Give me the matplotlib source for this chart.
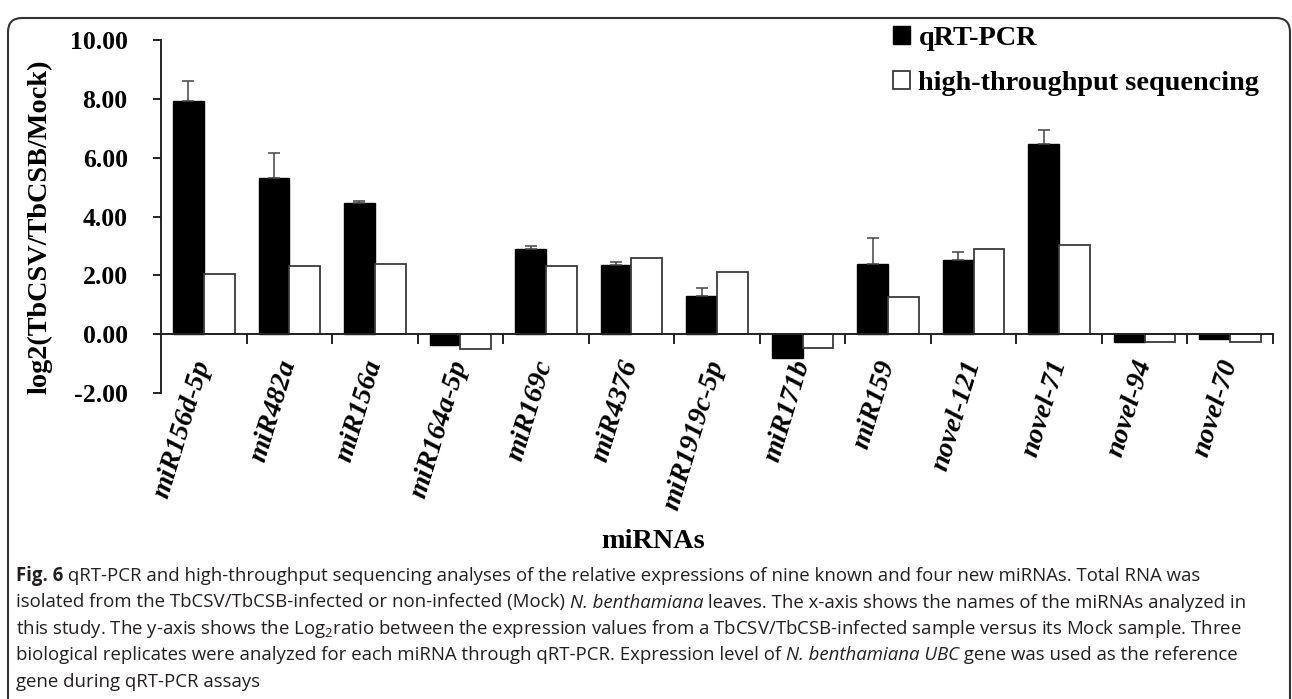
import numpy as np
import matplotlib
matplotlib.use("Agg")
import matplotlib.pyplot as plt
import matplotlib.transforms as mtransforms
from matplotlib.patches import FancyBboxPatch

# values
mirnas = ["miR156d-5p", "miR482a", "miR156a", "miR164a-5p", "miR169c", "miR4376",
          "miR1919c-5p", "miR171b", "miR159", "novel-121", "novel-71", "novel-94", "novel-70"]
qrt_pcr = [7.94, 5.30, 4.45, -0.38, 2.90, 2.36, 1.30, -0.82, 2.39, 2.51, 6.48, -0.25, -0.15]
qrt_err = [0.66, 0.87, 0.07, 0.0, 0.10, 0.09, 0.28, 0.0, 0.87, 0.30, 0.47, 0.0, 0.0]
hts = [2.04, 2.32, 2.38, -0.52, 2.32, 2.60, 2.11, -0.48, 1.25, 2.88, 3.04, -0.27, -0.28]
yticks = [-2, 0, 2, 4, 6, 8, 10]

# caption lines as (text, style) pieces: n normal, b bold, i italic
caption = [
    [("Fig. 6", "b"), (" qRT-PCR and high-throughput sequencing analyses of the relative expressions of nine known and four new miRNAs. Total RNA was", "n")],
    [("isolated from the TbCSV/TbCSB-infected or non-infected (Mock) ", "n"), ("N. benthamiana", "i"),
     (" leaves. The x-axis shows the names of the miRNAs analyzed in", "n")],
    [("this study. The y-axis shows the Log$_2$ratio between the expression values from a TbCSV/TbCSB-infected sample versus its Mock sample. Three", "n")],
    [("biological replicates were analyzed for each miRNA through qRT-PCR. Expression level of ", "n"),
     ("N. benthamiana UBC", "i"), (" gene was used as the reference", "n")],
    [("gene during qRT-PCR assays", "n")],
]

plt.rcParams["mathtext.fontset"] = "custom"
plt.rcParams["mathtext.rm"] = "Open Sans"
plt.rcParams["mathtext.it"] = "Open Sans:italic"
plt.rcParams["mathtext.bf"] = "Open Sans:bold"

serif = "Liberation Serif"
fs = 20.3
W, H = 1292, 699
fig = plt.figure(figsize=(W / 100, H / 100), dpi=100)
ax = fig.add_axes([161 / W, 1 - 393 / H, (1273 - 161) / W, (393 - 40) / H])

x = np.arange(len(mirnas))
bw = 0.36
ax.bar(x - bw / 2, qrt_pcr, bw, color="black", edgecolor="black", linewidth=1.0,
       label="qRT-PCR", zorder=2)
ax.bar(x + bw / 2, hts, bw, color="white", edgecolor="#3a3a3a", linewidth=1.3,
       label="high-throughput sequencing", zorder=2)

err = np.array(qrt_err)
has = err > 0
ax.errorbar((x - bw / 2)[has], np.array(qrt_pcr)[has],
            yerr=[np.zeros(has.sum()), err[has]], fmt="none", ecolor="#444444",
            elinewidth=1.1, capsize=4, capthick=1.1, zorder=3)

ax.set_xlim(-0.5, len(mirnas) - 0.5)
ax.set_ylim(-2, 10)
ax.set_yticks(yticks)
ax.set_yticklabels([f"{v:.2f}" for v in yticks], fontfamily=serif,
                   fontweight="bold", fontsize=18.5)

for s in ["top", "right"]:
    ax.spines[s].set_visible(False)
ax.spines["bottom"].set_position(("data", 0))
for s in ["left", "bottom"]:
    ax.spines[s].set_color("#222222")
    ax.spines[s].set_linewidth(1.4)

ax.tick_params(axis="y", direction="out", length=6, width=1.4, color="#222222", pad=18)
ax.set_xticks(x)
ax.set_xticks(np.arange(len(mirnas)) + 0.5, minor=True)
ax.tick_params(axis="x", which="major", length=0, pad=19)
ax.tick_params(axis="x", which="minor", direction="out", length=7, width=1.4, color="#222222")
ax.set_xticklabels(mirnas, rotation=73, ha="right", va="center", rotation_mode="anchor",
                   fontfamily=serif, fontweight="bold", fontstyle="italic", fontsize=fs)

ax.legend(loc="upper left", bbox_to_anchor=(893 / W, 1 - 26 / H),
          bbox_transform=fig.transFigure, frameon=False,
          prop={"family": serif, "weight": "bold", "size": fs},
          handlelength=0.6, handleheight=0.6, handletextpad=0.3, labelspacing=0.7,
          borderaxespad=0, borderpad=0)

fig.text(40 / W, 1 - 227 / H, "log2(TbCSV/TbCSB/Mock)", rotation=90, ha="center", va="center",
         fontfamily=serif, fontweight="bold", fontsize=fs)
fig.text(653 / W, 1 - 542 / H, "miRNAs", ha="center", va="center",
         fontfamily=serif, fontweight="bold", fontsize=fs)

# caption, drawn piece by piece so bold / italic runs sit inline
renderer = fig.canvas.get_renderer()
styles = {"n": {}, "b": {"fontweight": "bold"}, "i": {"fontstyle": "italic"}}
for i, pieces in enumerate(caption):
    xpos = 16
    ypos = 1 - (576 + i * 26.5) / H
    for txt, st in pieces:
        t = fig.text(xpos / W, ypos, txt, ha="left", va="center", fontfamily="Open Sans",
                     fontsize=13.4, color="#231f20", **styles[st])
        xpos += t.get_window_extent(renderer).width

# rounded frame around the figure panel
px = mtransforms.Affine2D().scale(1 / W, 1 / H) + fig.transFigure
frame = FancyBboxPatch((8, -40), 1290 - 8, 689 + 40 - 8, boxstyle="round,pad=0,rounding_size=14",
                       transform=px, fill=False, edgecolor="#333333", linewidth=1.5)
fig.patches.append(frame)

fig.savefig("out.png", dpi=100)
